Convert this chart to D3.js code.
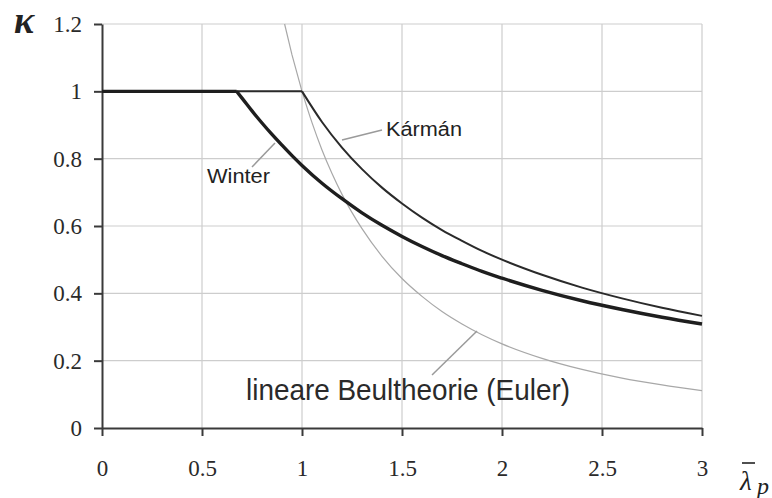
<!DOCTYPE html>
<html>
<head>
<meta charset="utf-8">
<script src="https://cdn.jsdelivr.net/npm/d3@7"></script>
<style>
  html, body { margin: 0; padding: 0; background: #fff; }
  svg { display: block; }
</style>
</head>
<body>
<svg id="chart" width="772" height="498"></svg>
<script>
// Reduced slenderness values and buckling reduction factors
const winterLambda = [0, 0.673, 0.7, 0.75, 0.8, 0.85, 0.9, 0.95, 1.0, 1.1, 1.2, 1.3, 1.4, 1.5, 1.6, 1.7, 1.8, 1.9, 2.0, 2.2, 2.4, 2.6, 2.8, 3.0];
const winterKappa  = [1, 1.0, 0.980, 0.942, 0.906, 0.872, 0.840, 0.809, 0.780, 0.727, 0.681, 0.639, 0.602, 0.569, 0.539, 0.512, 0.488, 0.465, 0.445, 0.409, 0.378, 0.352, 0.329, 0.309];

const karmanLambda = [0, 1.0, 1.1, 1.2, 1.3, 1.4, 1.5, 1.6, 1.7, 1.8, 1.9, 2.0, 2.2, 2.4, 2.6, 2.8, 3.0];
const karmanKappa  = [1, 1.0, 0.909, 0.833, 0.769, 0.714, 0.667, 0.625, 0.588, 0.556, 0.526, 0.500, 0.455, 0.417, 0.385, 0.357, 0.333];

const eulerLambda = [0.913, 0.95, 1.0, 1.05, 1.1, 1.15, 1.2, 1.3, 1.4, 1.5, 1.6, 1.7, 1.8, 1.9, 2.0, 2.2, 2.4, 2.6, 2.8, 3.0];
const eulerKappa  = [1.2, 1.108, 1.0, 0.907, 0.826, 0.756, 0.694, 0.592, 0.510, 0.444, 0.391, 0.346, 0.309, 0.277, 0.250, 0.207, 0.174, 0.148, 0.128, 0.111];

const xTicks = [0, 0.5, 1, 1.5, 2, 2.5, 3];
const yTicks = [0, 0.2, 0.4, 0.6, 0.8, 1, 1.2];

const svg = d3.select("#chart");
const x = d3.scaleLinear().domain([0, 3]).range([102, 702]);
const y = d3.scaleLinear().domain([0, 1.2]).range([428, 24]);

const serif = "'Liberation Serif', 'DejaVu Serif', serif";
const sans = "'Liberation Sans', Arial, sans-serif";

// Grid
const grid = svg.append("g").attr("stroke", "#cdcdcd").attr("stroke-width", 1.2);
grid.selectAll("line.v").data(xTicks.filter(d => d > 0)).join("line")
  .attr("x1", d => x(d)).attr("x2", d => x(d)).attr("y1", y(0)).attr("y2", y(1.2));
grid.selectAll("line.h").data(yTicks.filter(d => d > 0)).join("line")
  .attr("x1", x(0)).attr("x2", x(3)).attr("y1", d => y(d)).attr("y2", d => y(d));

// Axes
const fmt = d => String(d);
const xAxis = svg.append("g").attr("transform", `translate(0,${y(0)})`)
  .call(d3.axisBottom(x).tickValues(xTicks).tickFormat(fmt).tickSize(8).tickSizeOuter(0).tickPadding(24));
const yAxis = svg.append("g").attr("transform", `translate(${x(0)},0)`)
  .call(d3.axisLeft(y).tickValues(yTicks).tickFormat(fmt).tickSize(8).tickSizeOuter(0).tickPadding(12));
[xAxis, yAxis].forEach(a => {
  a.attr("font-family", null).attr("font-size", null);
  a.select(".domain").attr("stroke", "#3a3a3a").attr("stroke-width", 2);
  a.selectAll(".tick line").attr("stroke", "#3a3a3a").attr("stroke-width", 2);
  a.selectAll(".tick text").style("font-family", serif).style("font-size", "23px").attr("fill", "#2a2a2a");
});
xAxis.selectAll(".tick text").attr("dy", "0.68em");

// Curves: flat plateau drawn straight, decaying branch drawn smooth
const lineFlat = d3.line().x(d => x(d[0])).y(d => y(d[1]));
const lineCurve = d3.line().x(d => x(d[0])).y(d => y(d[1])).curve(d3.curveMonotoneX);
const zip = (a, b) => a.map((v, i) => [v, b[i]]);
function drawSeries(lams, kaps, color, width) {
  const pts = zip(lams, kaps);
  const k = pts.map(p => p[1]).lastIndexOf(1);
  const g = svg.append("g").attr("fill", "none").attr("stroke", color)
    .attr("stroke-width", width).attr("stroke-linejoin", "miter");
  if (k > 0) g.append("path").attr("d", lineFlat(pts.slice(0, k + 1)));
  g.append("path").attr("d", lineCurve(pts.slice(Math.max(k, 0))));
}
drawSeries(eulerLambda, eulerKappa, "#a8a8a8", 1.2);
drawSeries(karmanLambda, karmanKappa, "#2a2a2a", 2);
drawSeries(winterLambda, winterKappa, "#1e1e1e", 3.4);

// Annotations with leader lines
const lead = svg.append("g").attr("stroke", "#9a9a9a").attr("stroke-width", 1.5);
lead.append("line").attr("x1", 342).attr("y1", 140).attr("x2", 382).attr("y2", 130);
lead.append("line").attr("x1", 252).attr("y1", 167).attr("x2", 275).attr("y2", 143);
lead.append("line").attr("x1", 432).attr("y1", 375).attr("x2", 477).attr("y2", 331);

svg.append("text").attr("x", 386).attr("y", 136).style("font-family", sans).style("font-size", "20px")
  .attr("textLength", 76).attr("lengthAdjust", "spacingAndGlyphs").attr("fill", "#222").text("Kármán");
svg.append("text").attr("x", 207).attr("y", 183).style("font-family", sans).style("font-size", "21px")
  .attr("textLength", 63).attr("lengthAdjust", "spacingAndGlyphs").attr("fill", "#222").text("Winter");
svg.append("text").attr("x", 246).attr("y", 400).style("font-family", sans).style("font-size", "29px")
  .attr("textLength", 324).attr("lengthAdjust", "spacingAndGlyphs").attr("fill", "#2a2a2a")
  .text("lineare Beultheorie (Euler)");

// Axis symbols
svg.append("text").attr("x", 14).attr("y", 33).style("font-family", serif).style("font-style", "italic")
  .style("font-weight", "bold").style("font-size", "38px").attr("fill", "#222").text("κ");
svg.append("text").attr("x", 740).attr("y", 490).style("font-family", serif)
  .style("font-style", "italic").style("font-size", "27px").attr("fill", "#222").text("λ");
svg.append("text").attr("x", 757).attr("y", 494).style("font-family", serif)
  .style("font-style", "italic").style("font-size", "24px").attr("fill", "#222").text("p");
svg.append("line").attr("x1", 742).attr("x2", 755).attr("y1", 463).attr("y2", 463)
  .attr("stroke", "#222").attr("stroke-width", 1.6);
</script>
</body>
</html>
